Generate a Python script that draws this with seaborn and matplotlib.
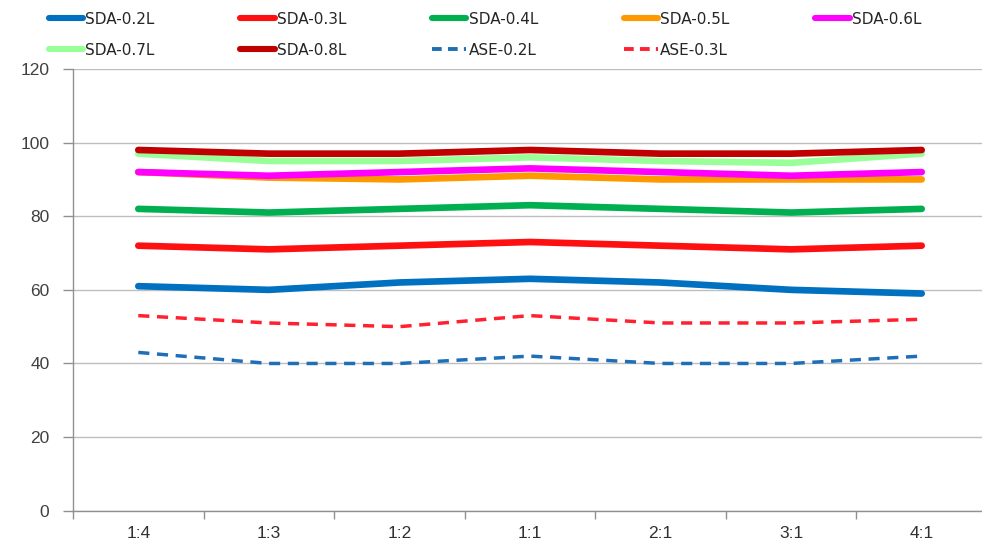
import matplotlib
matplotlib.use("Agg")
import matplotlib.pyplot as plt
import seaborn as sns
import numpy as np
from matplotlib.lines import Line2D

categories = ["1:4", "1:3", "1:2", "1:1", "2:1", "3:1", "4:1"]
series_names = ["SDA-0.2L", "SDA-0.3L", "SDA-0.4L", "SDA-0.5L", "SDA-0.6L",
                "SDA-0.7L", "SDA-0.8L", "ASE-0.2L", "ASE-0.3L"]
sda_02 = [61, 60, 62, 63, 62, 60, 59]
sda_03 = [72, 71, 72, 73, 72, 71, 72]
sda_04 = [82, 81, 82, 83, 82, 81, 82]
sda_05 = [92, 90.5, 90, 91, 90, 90, 90]
sda_06 = [92, 91, 92, 93, 92, 91, 92]
sda_07 = [97, 95, 95, 96, 95, 94.5, 97]
sda_08 = [98, 97, 97, 98, 97, 97, 98]
ase_02 = [43, 40, 40, 42, 40, 40, 42]
ase_03 = [53, 51, 50, 53, 51, 51, 52]
y_ticks = [0, 20, 40, 60, 80, 100, 120]

values = [sda_02, sda_03, sda_04, sda_05, sda_06, sda_07, sda_08, ase_02, ase_03]
colors = ["#0070C0", "#FF1010", "#00B050", "#FF9900", "#FF00FF",
          "#99FF99", "#C00000", "#1F6FB8", "#FF2030"]
dashed = [False] * 7 + [True, True]

sns.set_theme(style="white")
plt.rcParams["font.family"] = ["Liberation Sans", "DejaVu Sans"]

fig = plt.figure(figsize=(9.82, 5.55), dpi=100)
ax = fig.add_axes([73 / 982, 44.3 / 555, 914 / 982, 441.7 / 555])

for name, vals, col, d in zip(series_names, values, colors, dashed):
    if d:
        sns.lineplot(x=categories, y=vals, ax=ax, color=col, lw=2.5,
                     linestyle=(0, (3.2, 2.2)), sort=False)
    else:
        sns.lineplot(x=categories, y=vals, ax=ax, color=col, lw=4.8,
                     sort=False, solid_capstyle="round")

ax.set_xlim(-0.5, 6.5)
ax.set_ylim(0, 120)
ax.set_yticks(y_ticks)
ax.set_yticklabels([str(t) for t in y_ticks], fontsize=12.5, color="#404040")
ax.set_xticks(range(len(categories)))
ax.set_xticklabels(categories, fontsize=12.5, color="#303030")
ax.set_xticks(np.arange(-0.5, 6.6, 1), minor=True)
ax.tick_params(axis="x", which="major", length=0, pad=11)
ax.tick_params(axis="x", which="minor", length=6, color="#909090", width=1,
               direction="out", bottom=True)
ax.tick_params(axis="y", length=7, color="#909090", width=1, direction="out",
               left=True, pad=10)
ax.grid(axis="y", color="#BEBEBE", lw=1)
ax.set_axisbelow(True)
for s in ["top", "right"]:
    ax.spines[s].set_visible(False)
for s in ["left", "bottom"]:
    ax.spines[s].set_color("#909090")
    ax.spines[s].set_linewidth(1)
ax.set_xlabel("")
ax.set_ylabel("")

leg_handles = []
for col, d in zip(colors, dashed):
    if d:
        leg_handles.append(Line2D([], [], color=col, lw=2.8, linestyle=(0, (2.5, 1.6))))
    else:
        leg_handles.append(Line2D([], [], color=col, lw=4.4))
# legend fills columns first; reorder so entries read row by row
order = [0, 5, 1, 6, 2, 7, 3, 8, 4]
fig.legend([leg_handles[i] for i in order], [series_names[i] for i in order],
           loc="upper left", bbox_to_anchor=(41 / 982, 1 - 4 / 555), ncol=5,
           frameon=False, handlelength=2.25, handletextpad=0.15,
           columnspacing=5.6, labelspacing=1.05, borderpad=0,
           prop={"family": ["Liberation Sans Narrow", "DejaVu Sans"], "size": 11})

fig.savefig("out.png", dpi=100)
